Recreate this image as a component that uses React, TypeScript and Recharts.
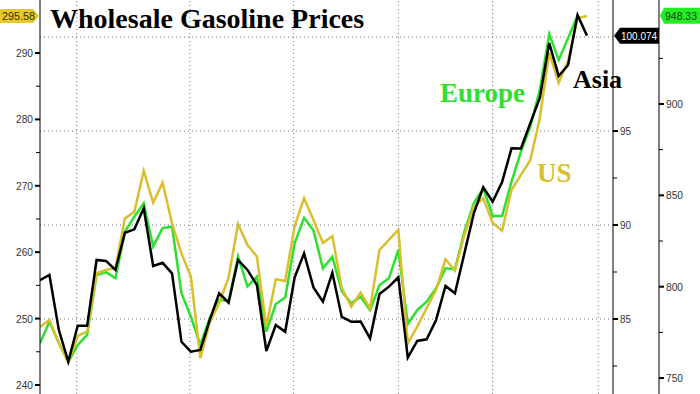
import React from 'react';
import { LineChart, Line, XAxis, YAxis, ReferenceLine } from 'recharts';

// US wholesale gasoline (left axis, yellow)
const usPrices = [
  248.73, 249.79, 246.33, 243.46, 247.38, 248.03, 256.82, 257.32, 257.62, 265.11,
  266.05, 272.23, 267.45, 270.47, 264.35, 259.83, 256.31, 244.02, 249.41, 252.35,
  256.19, 264.25, 261.08, 259.35, 248.78, 255.92, 255.66, 263.95, 268.12, 264.85,
  261.39, 262.44, 254.61, 251.79, 253.9, 251.55, 260.33, 261.84, 263.34, 246.28,
  248.78, 251.55, 254.31, 258.93, 257.21, 262.59, 266.85, 268.12, 264.44, 263.24,
  269.37, 271.63, 273.89, 280.21, 290.0, 285.48, 288.8, 295.27, 295.58,
];

// Asia (middle axis, black)
const asiaPrices = [
  87.07, 87.34, 84.41, 82.73, 84.64, 84.64, 88.14, 88.09, 87.61, 89.59,
  89.77, 90.89, 87.82, 87.99, 87.43, 83.79, 83.26, 83.35, 84.95, 86.37,
  85.87, 88.14, 87.61, 86.81, 83.3, 84.68, 84.32, 87.21, 88.49, 86.68,
  85.92, 87.46, 85.11, 84.86, 84.87, 83.97, 86.33, 86.72, 87.22, 82.95,
  83.83, 83.92, 84.95, 86.76, 86.37, 88.49, 90.62, 92.01, 91.24, 92.29,
  94.08, 94.07, 95.43, 96.76, 99.68, 97.93, 98.51, 101.17, 100.074,
];

// Europe (far right axis, green)
const europePrices = [
  769.0, 780.8, 769.2, 758.8, 768.1, 773.6, 806.4, 808.0, 804.6, 830.1,
  838.3, 845.6, 821.9, 832.0, 833.0, 796.4, 783.6, 768.1, 782.9, 792.7,
  792.2, 816.6, 800.2, 805.5, 775.4, 790.5, 794.1, 823.8, 837.7, 830.8,
  810.0, 816.4, 797.6, 790.9, 794.5, 787.2, 800.9, 804.6, 820.1, 779.6,
  787.2, 791.8, 799.1, 810.1, 809.5, 830.1, 845.6, 853.9, 838.7, 838.7,
  857.5, 873.9, 887.6, 907.7, 938.3, 924.1, 936.1, 948.33,
];

const usLast = 295.58;
const asiaLast = 100.074;
const europeLast = 948.33;

const usTicks = [240, 245, 250, 255, 260, 265, 270, 275, 280, 285, 290, usLast];
const asiaTicks = [82.5, 85, 87.5, 90, 92.5, 95, asiaLast];
const europeTicks = [750, 775, 800, 825, 850, 875, 900, 925, europeLast];

// grid rows are on the Asia scale
const gridRows = [85, 90, 95, 100];
const gridCols = [3.9, 15.9, 26.9, 38, 48, 59.2];

const US_DOMAIN = [238.64, 297.98];
const ASIA_DOMAIN = [81.01, 101.97];
const EUROPE_DOMAIN = [741.27, 956.92];
const X_DOMAIN = [0, 60.76];

const asiaToUs = (v: number) =>
  US_DOMAIN[0] + ((v - ASIA_DOMAIN[0]) / (ASIA_DOMAIN[1] - ASIA_DOMAIN[0])) * (US_DOMAIN[1] - US_DOMAIN[0]);

const data = usPrices.map((u, i) => ({
  i,
  us: u,
  asia: asiaPrices[i],
  europe: i < europePrices.length ? europePrices[i] : null,
}));

const YELLOW = '#d9bf2e';
const GREEN = '#2de02d';
const LABEL_FONT = '"Liberation Sans", Arial, sans-serif';
const SERIF = '"Liberation Serif", "Times New Roman", serif';

const isMajor = (v: number, step: number) => Math.abs(v / step - Math.round(v / step)) < 1e-6;

const UsTick = (props: any) => {
  const { x, y, payload } = props;
  const v = payload.value;
  if (v === usLast) {
    return (
      <g>
        <path d={`M ${x - 40} ${y - 7} H ${x - 7} L ${x - 1} ${y} L ${x - 7} ${y + 7} H ${x - 40} Z`} fill="#e6c828" />
        <text x={x - 38} y={y + 4} textLength={33} lengthAdjust="spacingAndGlyphs" fontSize={11} fontFamily={LABEL_FONT} fill="#3a3000">
          {v.toFixed(2)}
        </text>
      </g>
    );
  }
  const major = isMajor(v, 10);
  return (
    <g>
      <line x1={x - (major ? 5 : 4)} x2={x} y1={y} y2={y} stroke="#000" strokeWidth={major ? 2 : 1} />
      {major && (
        <text x={x - 7} y={y + 4} textAnchor="end" fontSize={11} fontFamily={LABEL_FONT} fill="#333" textLength={17} lengthAdjust="spacingAndGlyphs">
          {v}
        </text>
      )}
    </g>
  );
};

const AsiaTick = (props: any) => {
  const { x, y, payload } = props;
  const v = payload.value;
  if (v === asiaLast) {
    return (
      <g>
        <path d={`M ${x + 1} ${y} L ${x + 7} ${y - 8} H ${x + 46} V ${y + 8} H ${x + 7} Z`} fill="#000" />
        <text x={x + 8} y={y + 4} textLength={36} lengthAdjust="spacingAndGlyphs" fontSize={11} fontFamily={LABEL_FONT} fill="#fff">
          {v.toFixed(3)}
        </text>
      </g>
    );
  }
  const major = isMajor(v, 5);
  return (
    <g>
      <line x1={x} x2={x + (major ? 5 : 4)} y1={y} y2={y} stroke="#000" strokeWidth={major ? 2 : 1} />
      {major && (
        <text x={x + 7} y={y + 4} textAnchor="start" fontSize={11} fontFamily={LABEL_FONT} fill="#333" textLength={11} lengthAdjust="spacingAndGlyphs">
          {v}
        </text>
      )}
    </g>
  );
};

const EuropeTick = (props: any) => {
  const { x, y, payload } = props;
  const v = payload.value;
  if (v === europeLast) {
    return (
      <g>
        <path d={`M ${x + 1} ${y} L ${x + 5} ${y - 8} H ${x + 41} V ${y + 8} H ${x + 5} Z`} fill="#22ee22" />
        <text x={x + 6} y={y + 4} textLength={32} lengthAdjust="spacingAndGlyphs" fontSize={11} fontFamily={LABEL_FONT} fill="#1c3a1c">
          {v.toFixed(2)}
        </text>
      </g>
    );
  }
  const major = isMajor(v, 50);
  return (
    <g>
      <line x1={x} x2={x + (major ? 5 : 4)} y1={y} y2={y} stroke="#000" strokeWidth={major ? 2 : 1} />
      {major && (
        <text x={x + 7} y={y + 4} textAnchor="start" fontSize={11} fontFamily={LABEL_FONT} fill="#333" textLength={17} lengthAdjust="spacingAndGlyphs">
          {v}
        </text>
      )}
    </g>
  );
};

export default function App() {
  return (
    <div style={{ position: 'absolute', left: 0, top: 0, width: 700, height: 394, background: '#fff' }}>
      <LineChart width={700} height={394} data={data} margin={{ top: 0, right: 0, bottom: 0, left: 0 }}>
        <XAxis dataKey="i" type="number" domain={X_DOMAIN} hide allowDataOverflow />
        <YAxis
          yAxisId="us"
          orientation="left"
          width={40}
          domain={US_DOMAIN}
          ticks={usTicks}
          interval={0}
          tickSize={0}
          tickMargin={0}
          tickLine={false}
          axisLine={{ stroke: '#000', strokeWidth: 1 }}
          tick={(p: any) => <UsTick {...p} />}
          allowDataOverflow
        />
        <YAxis
          yAxisId="asia"
          orientation="right"
          width={46}
          domain={ASIA_DOMAIN}
          ticks={asiaTicks}
          interval={0}
          tickSize={0}
          tickMargin={0}
          tickLine={false}
          axisLine={{ stroke: '#000', strokeWidth: 1 }}
          tick={(p: any) => <AsiaTick {...p} />}
          allowDataOverflow
        />
        <YAxis
          yAxisId="europe"
          orientation="right"
          width={41}
          domain={EUROPE_DOMAIN}
          ticks={europeTicks}
          interval={0}
          tickSize={0}
          tickMargin={0}
          tickLine={false}
          axisLine={{ stroke: '#000', strokeWidth: 1 }}
          tick={(p: any) => <EuropeTick {...p} />}
          allowDataOverflow
        />
        {gridRows.map((v) => (
          <ReferenceLine key={`r${v}`} yAxisId="us" y={asiaToUs(v)} stroke="#707070" strokeDasharray="1 3" />
        ))}
        {gridCols.map((v) => (
          <ReferenceLine key={`c${v}`} yAxisId="us" x={v} stroke="#707070" strokeDasharray="1 3" />
        ))}
        <Line yAxisId="europe" type="linear" dataKey="europe" stroke={GREEN} strokeWidth={2.5} dot={false} isAnimationActive={false} />
        <Line yAxisId="us" type="linear" dataKey="us" stroke={YELLOW} strokeWidth={2.5} dot={false} isAnimationActive={false} />
        <Line yAxisId="asia" type="linear" dataKey="asia" stroke="#000" strokeWidth={2.5} dot={false} isAnimationActive={false} />
      </LineChart>
      <svg width={700} height={394} style={{ position: 'absolute', left: 0, top: 0, pointerEvents: 'none' }}>
        <text x={50} y={28} fontFamily={SERIF} fontWeight="bold" fontSize={28} fill="#000">
          Wholesale Gasoline Prices
        </text>
        <text x={440} y={102} fontFamily={SERIF} fontWeight="bold" fontSize={27} fill={GREEN}>
          Europe
        </text>
        <text x={573} y={88} fontFamily={SERIF} fontWeight="bold" fontSize={26} fill="#000">
          Asia
        </text>
        <text x={537} y={182} fontFamily={SERIF} fontWeight="bold" fontSize={27} fill={YELLOW}>
          US
        </text>
      </svg>
    </div>
  );
}
